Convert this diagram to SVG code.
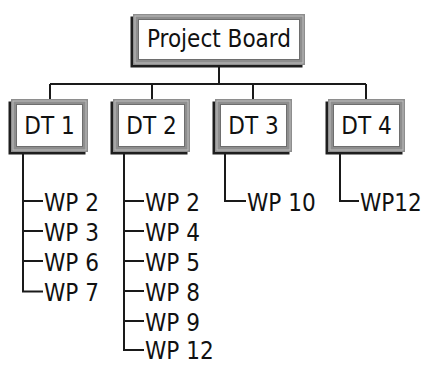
<svg xmlns="http://www.w3.org/2000/svg" width="424" height="365" viewBox="0 0 424 365">
<style>
.sh{fill:#1e1e1e}
.fr{fill:#8e8e8e}
.st{fill:none;stroke:#bdbdbd;stroke-width:1}
.in{fill:#fff;stroke:#6e6e6e;stroke-width:1}
.t{font-family:"DejaVu Sans Condensed","DejaVu Sans",sans-serif;font-size:24px;fill:#111}
.c{text-anchor:middle}
.ln{fill:none;stroke:#1a1a1a;stroke-width:2}
</style>
<rect width="424" height="365" fill="#fff"/>
<g id="connectors">
<path class="ln" d="M219 65V84M50 84H366M50 84V99M152 84V99M253 84V99M366 84V99"/>
<path class="ln" d="M23 152V291.5H43M23 201H43M23 231H43M23 261H43"/>
<path class="ln" d="M124 152V350H144M124 201H144M124 231H144M124 261H144M124 291H144M124 321H144"/>
<path class="ln" d="M225 152V201H246"/>
<path class="ln" d="M340 152V201H359"/>
</g>
<g id="project-board">
<rect class="sh" x="130.5" y="16.5" width="172" height="51"/>
<rect class="fr" x="133" y="14" width="172" height="51"/>
<rect class="st" x="135" y="16" width="168" height="47"/>
<rect class="in" x="138.5" y="19.5" width="161" height="40"/>
<text class="t c" x="219" y="47">Project Board</text>
</g>
<g id="dt1">
<rect class="sh" x="8.5" y="101.5" width="77" height="53"/>
<rect class="fr" x="11" y="99" width="77" height="53"/>
<rect class="st" x="13" y="101" width="73" height="49"/>
<rect class="in" x="16.5" y="104.5" width="66" height="42"/>
<text class="t c" x="49.5" y="134">DT 1</text>
</g>
<g id="dt2">
<rect class="sh" x="110.5" y="101.5" width="77" height="53"/>
<rect class="fr" x="113" y="99" width="77" height="53"/>
<rect class="st" x="115" y="101" width="73" height="49"/>
<rect class="in" x="118.5" y="104.5" width="66" height="42"/>
<text class="t c" x="151.5" y="134">DT 2</text>
</g>
<g id="dt3">
<rect class="sh" x="212.5" y="101.5" width="77" height="53"/>
<rect class="fr" x="215" y="99" width="77" height="53"/>
<rect class="st" x="217" y="101" width="73" height="49"/>
<rect class="in" x="220.5" y="104.5" width="66" height="42"/>
<text class="t c" x="253.5" y="134">DT 3</text>
</g>
<g id="dt4">
<rect class="sh" x="325.5" y="101.5" width="77" height="53"/>
<rect class="fr" x="328" y="99" width="77" height="53"/>
<rect class="st" x="330" y="101" width="73" height="49"/>
<rect class="in" x="333.5" y="104.5" width="66" height="42"/>
<text class="t c" x="366.5" y="134">DT 4</text>
</g>
<g id="dt1-items">
<text class="t" x="44" y="210.5">WP 2</text>
<text class="t" x="44" y="240.5">WP 3</text>
<text class="t" x="44" y="270.5">WP 6</text>
<text class="t" x="44" y="300.5">WP 7</text>
</g>
<g id="dt2-items">
<text class="t" x="145" y="210.5">WP 2</text>
<text class="t" x="145" y="240.5">WP 4</text>
<text class="t" x="145" y="270.5">WP 5</text>
<text class="t" x="145" y="300.5">WP 8</text>
<text class="t" x="145" y="330.5">WP 9</text>
<text class="t" x="145" y="359">WP 12</text>
</g>
<g id="dt3-items">
<text class="t" x="247" y="210.5">WP 10</text>
</g>
<g id="dt4-items">
<text class="t" x="360" y="210.5">WP12</text>
</g>
</svg>
